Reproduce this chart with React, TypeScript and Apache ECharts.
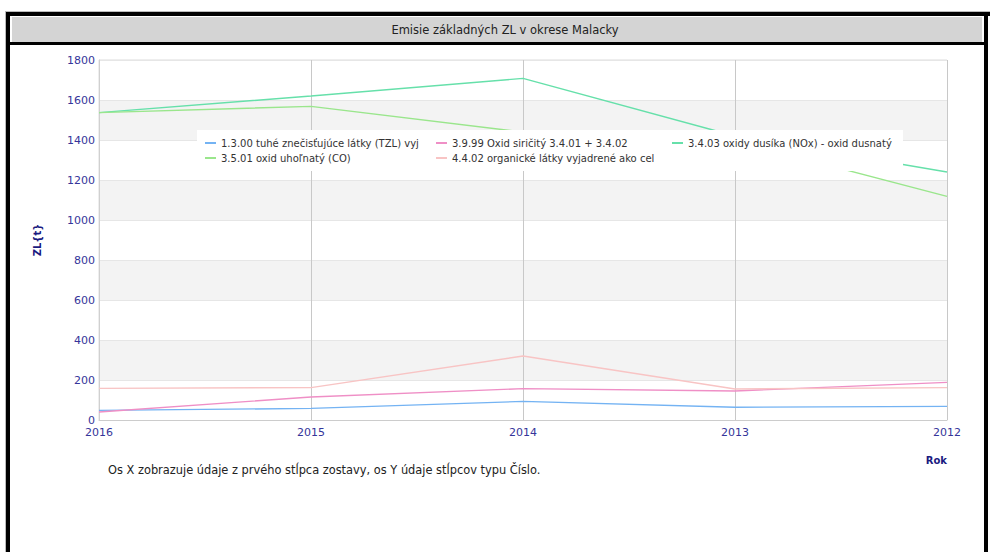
import React, { useEffect, useRef } from "react";
import * as echarts from "echarts";

const years = ["2016", "2015", "2014", "2013", "2012"];
const seriesNames = [
  "1.3.00 tuhé znečisťujúce látky (TZL) vyj",
  "3.9.99 Oxid siričitý 3.4.01 + 3.4.02",
  "3.4.03 oxidy dusíka (NOx) - oxid dusnatý",
  "3.5.01 oxid uhoľnatý (CO)",
  "4.4.02 organické látky vyjadrené ako cel",
];
const tzl = [48, 58, 93, 64, 68];
const so2 = [40, 115, 157, 145, 188];
const nox = [1537, 1620, 1708, 1420, 1240];
const co = [1537, 1568, 1440, 1395, 1118];
const org = [158, 162, 320, 155, 162];
const seriesColors = ["#74b3f3", "#ef8fc6", "#66e0aa", "#9ae68c", "#f8c4c4"];
const titleText = "Emisie základných ZL v okrese Malacky";
const yName = "ZL{t}";
const xName = "Rok";
const footnote = "Os X zobrazuje údaje z prvého stĺpca zostavy, os Y údaje stĺpcov typu Číslo.";

const FONT = "DejaVu Sans";
const NAVY = "#35359a";

export default function App() {
  const ref = useRef<HTMLDivElement>(null);
  useEffect(() => {
    if (!ref.current) return;
    const chart = echarts.init(ref.current, undefined, { renderer: "svg" });
    const values = [tzl, so2, nox, co, org];
    const legendPos = [
      [205, 138],
      [436, 138],
      [672, 138],
      [205, 153],
      [436, 153],
    ];
    chart.setOption({
      animation: false,
      grid: {
        left: 99,
        top: 60,
        right: 43,
        bottom: 132,
        show: true,
        borderColor: "#dddddd",
        borderWidth: 1,
      },
      legend: seriesNames.map((n, i) => ({
        data: [n],
        left: legendPos[i][0],
        top: legendPos[i][1],
        padding: 0,
        icon: "rect",
        itemWidth: 11,
        itemHeight: 2,
        textStyle: { fontFamily: FONT, fontSize: 10, color: "#333333" },
        z: 101,
      })),
      xAxis: {
        type: "category",
        boundaryGap: false,
        data: years,
        axisLine: { lineStyle: { color: "#cccccc" } },
        axisTick: { show: false },
        splitLine: { show: true, lineStyle: { color: "#c8c8c8" } },
        axisLabel: { color: NAVY, fontFamily: FONT, fontSize: 11, margin: 7 },
      },
      yAxis: {
        type: "value",
        min: 0,
        max: 1800,
        interval: 200,
        name: yName,
        nameLocation: "middle",
        nameGap: 57,
        nameTextStyle: { color: "#1a1a80", fontFamily: FONT, fontSize: 10, fontWeight: "bold" },
        axisLine: { show: true, lineStyle: { color: "#d0d0d0" } },
        axisTick: { show: false },
        splitLine: { show: true, lineStyle: { color: "#e6e6e6" } },
        splitArea: { show: true, areaStyle: { color: ["#ffffff", "#f3f3f3"] } },
        axisLabel: {
          color: NAVY,
          fontFamily: FONT,
          fontSize: 11,
          margin: 4,
          formatter: (v: number) => String(v),
        },
      },
      series: seriesNames.map((n, i) => ({
        name: n,
        type: "line",
        data: values[i],
        showSymbol: false,
        z: 2,
        color: seriesColors[i],
        lineStyle: { width: 1.4, color: seriesColors[i] },
      })),
      graphic: {
        z: 100,
        elements: [
          { type: "rect", z: 100, shape: { x: 197, y: 130, width: 706, height: 41 }, style: { fill: "#ffffff" } },
          { type: "rect", shape: { x: 5, y: 11, width: 985, height: 1 }, style: { fill: "#bbbbbb" } },
          { type: "rect", shape: { x: 5, y: 11, width: 1, height: 541 }, style: { fill: "#bbbbbb" } },
          { type: "rect", shape: { x: 6, y: 12, width: 984, height: 4 }, style: { fill: "#000000" } },
          { type: "rect", shape: { x: 6, y: 12, width: 4, height: 540 }, style: { fill: "#000000" } },
          { type: "rect", shape: { x: 984, y: 12, width: 4, height: 540 }, style: { fill: "#000000" } },
          { type: "rect", shape: { x: 12, y: 17, width: 970, height: 25 }, style: { fill: "#d4d4d4" } },
          { type: "rect", shape: { x: 10, y: 42, width: 974, height: 3 }, style: { fill: "#000000" } },
          {
            type: "text",
            x: 505,
            y: 30,
            style: { text: titleText, fill: "#222222", font: `11.5px '${FONT}'`, align: "center", verticalAlign: "middle" },
          },
          {
            type: "text",
            x: 947,
            y: 460,
            style: { text: xName, fill: "#1a1a80", font: `bold 10px '${FONT}'`, align: "right", verticalAlign: "middle" },
          },
          {
            type: "text",
            x: 108,
            y: 470,
            style: { text: footnote, fill: "#222222", font: `11.4px '${FONT}'`, align: "left", verticalAlign: "middle" },
          },
        ],
      },
    });
    return () => chart.dispose();
  }, []);
  return (
    <div style={{ position: "fixed", left: 0, top: 0, width: 990, height: 552, background: "#ffffff" }}>
      <div ref={ref} style={{ width: 990, height: 552 }} />
    </div>
  );
}
